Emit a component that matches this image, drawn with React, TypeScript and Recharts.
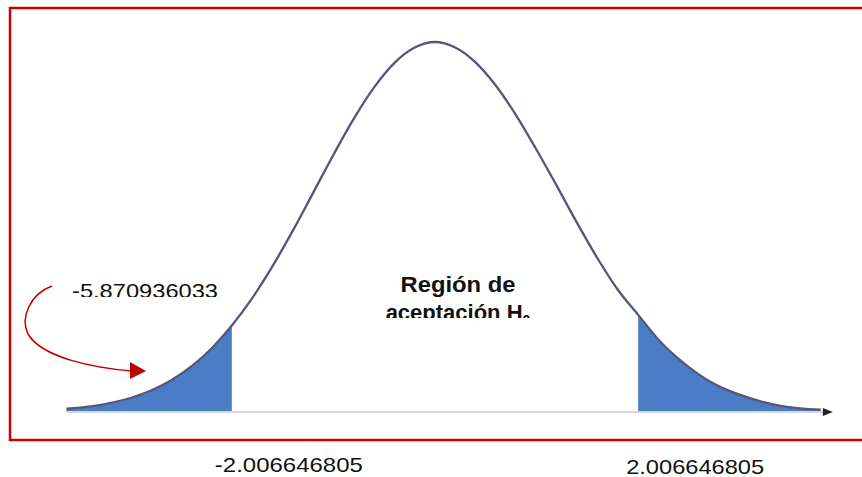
import React from "react";
import { ComposedChart, Area, Line, XAxis, YAxis, ReferenceLine, ReferenceDot } from "recharts";

// valores t (eje horizontal)
const tValues = [
  -3.64, -3.4, -3.2, -3.0, -2.8, -2.6, -2.4, -2.2, -2.0066, -1.8, -1.6, -1.4, -1.2, -1.0, -0.8, -0.6, -0.4, -0.2, 0,
  0.2, 0.4, 0.6, 0.8, 1.0, 1.2, 1.4, 1.6, 1.8, 2.0066, 2.2, 2.4, 2.6, 2.8, 3.0, 3.2, 3.4, 3.6, 3.81,
];
// altura de la curva en cada punto (estimada del dibujo)
const density = [
  0.0035, 0.0061, 0.0099, 0.0154, 0.0235, 0.0347, 0.0498, 0.0695, 0.0935, 0.124, 0.1585, 0.1969, 0.2377, 0.2787, 0.3174, 0.3512, 0.3775, 0.394, 0.4,
  0.394, 0.378, 0.353, 0.321, 0.284, 0.245, 0.205, 0.167, 0.133, 0.105, 0.079, 0.058, 0.041, 0.028, 0.019, 0.012, 0.007, 0.004, 0.0025,
];
const critical = 2.0066;
const criticalLabels = ["-2.006646805", "2.006646805"];
const statLabel = "-5.870936033";

const data = tValues.map((t, i) => ({
  t,
  curva: density[i],
  colaIzq: t <= -critical ? density[i] : null,
  colaDer: t >= critical ? density[i] : null,
}));

const FONT = "'Liberation Sans', Arial, sans-serif";

const CriticalTick = (props: any) => {
  const { x, y, payload } = props;
  const izq = payload.value < 0;
  const label = izq ? criticalLabels[0] : criticalLabels[1];
  return (
    <text x={x + 57} y={y} dy={izq ? 52 : 54} textAnchor="middle" fontFamily={FONT} fontSize={21} fill="#111" textLength={izq ? 148 : 138} lengthAdjust="spacingAndGlyphs">
      {label}
    </text>
  );
};

const ArrowHead = (props: any) => {
  const { cx, cy } = props;
  return <polygon points={`${cx - 7},${cy - 4} ${cx + 3},${cy} ${cx - 7},${cy + 4}`} fill="#222" />;
};

export default function App() {
  return (
    <div style={{ position: "absolute", left: 0, top: 0, width: 862, height: 477, background: "#fff" }}>
      <ComposedChart width={862} height={477} data={data} margin={{ top: 42, right: 22, bottom: 5, left: 30 }}>
        <XAxis
          dataKey="t"
          type="number"
          domain={[-4, 4]}
          ticks={[-critical, critical]}
          tick={<CriticalTick />}
          axisLine={false}
          tickLine={false}
          height={60}
          interval={0}
        />
        <YAxis hide domain={[0, 0.4]} />
        <ReferenceLine segment={[{ x: -3.64, y: 0 }, { x: 3.85, y: 0 }]} stroke="#d8d8d8" strokeWidth={2} ifOverflow="visible" />
        <Area dataKey="colaIzq" type="monotone" fill="#4a7dc6" fillOpacity={1} stroke="none" isAnimationActive={false} connectNulls={false} />
        <Area dataKey="colaDer" type="monotone" fill="#4a7dc6" fillOpacity={1} stroke="none" isAnimationActive={false} connectNulls={false} />
        <Line dataKey="curva" type="monotone" stroke="#55577a" strokeWidth={2.3} dot={false} isAnimationActive={false} />
        <ReferenceDot x={3.9} y={0} r={4} shape={<ArrowHead />} ifOverflow="visible" />
      </ComposedChart>
      <svg width={862} height={477} style={{ position: "absolute", left: 0, top: 0, pointerEvents: "none" }}>
        <defs>
          <clipPath id="clipStat">
            <rect x={0} y={0} width={862} height={297} />
          </clipPath>
          <clipPath id="clipRegion">
            <rect x={0} y={0} width={862} height={318} />
          </clipPath>
        </defs>
        <rect x={10} y={8} width={880} height={432} fill="none" stroke="#cc0000" strokeWidth={2.5} />
        <text x={72} y={298} fontFamily={FONT} fontSize={21} fill="#111" textLength={146} lengthAdjust="spacingAndGlyphs" clipPath="url(#clipStat)">
          {statLabel}
        </text>
        <g clipPath="url(#clipRegion)" fontFamily={FONT} fontWeight="bold" fill="#111">
          <text x={458} y={292} fontSize={22} textAnchor="middle" textLength={115} lengthAdjust="spacingAndGlyphs">Región de</text>
          <text x={458} y={320} fontSize={22} textAnchor="middle">
            aceptación H<tspan fontSize={14} dy={5}>0</tspan>
          </text>
        </g>
        <path d="M52,286 C30,294 20,318 28,334 C42,358 95,368 132,371" fill="none" stroke="#c00000" strokeWidth={1.5} />
        <polygon points="130,362 146,371 130,379" fill="#c00000" />
      </svg>
    </div>
  );
}
